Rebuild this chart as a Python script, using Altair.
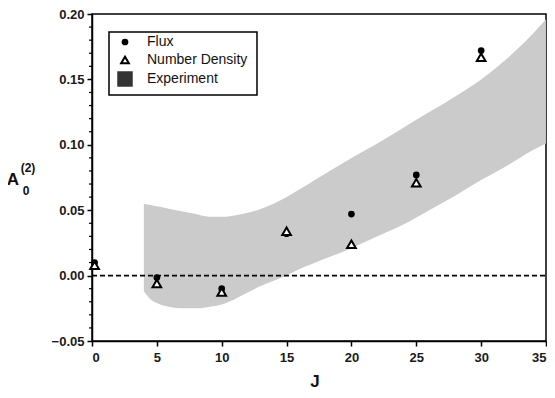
import altair as alt
import pandas as pd

# ---- data ----
J_flux = [0.2, 5, 10, 15, 20, 25, 30]
flux = [0.010, -0.0015, -0.010, 0.032, 0.047, 0.077, 0.172]
J_nd = [0.2, 5, 10, 15, 20, 25, 30]
number_density = [0.008, -0.006, -0.0125, 0.034, 0.024, 0.071, 0.167]

J_band = [4, 4.5, 5, 6, 7, 8, 9, 10, 11, 12, 13, 14, 15, 16, 17, 18, 20, 22, 24, 26, 28, 30, 32, 34, 35]
band_low = [-0.012, -0.018, -0.021, -0.024, -0.025, -0.025, -0.024, -0.022, -0.018, -0.013, -0.008,
            -0.004, 0.000, 0.005, 0.009, 0.013, 0.021, 0.030, 0.039, 0.050, 0.061, 0.073, 0.084, 0.096, 0.101]
band_high = [0.055, 0.054, 0.053, 0.051, 0.049, 0.047, 0.045, 0.045, 0.046, 0.048, 0.051,
             0.055, 0.060, 0.066, 0.072, 0.078, 0.090, 0.101, 0.113, 0.125, 0.137, 0.150, 0.166, 0.185, 0.196]

x_ticks = [0, 5, 10, 15, 20, 25, 30, 35]
y_ticks = [-0.05, 0.00, 0.05, 0.10, 0.15, 0.20]
y_minor = [-0.04, -0.03, -0.02, -0.01, 0.01, 0.02, 0.03, 0.04, 0.06, 0.07, 0.08, 0.09,
           0.11, 0.12, 0.13, 0.14, 0.16, 0.17, 0.18, 0.19]
legend_labels = ["Flux", "Number Density", "Experiment"]

FONT = "Liberation Sans"
W, H = 454, 327

xs = alt.Scale(domain=[0, 35], nice=False, zero=False)
ys = alt.Scale(domain=[-0.05, 0.20], nice=False, zero=False)

band_df = pd.DataFrame({"J": J_band, "low": band_low, "high": band_high})
flux_df = pd.DataFrame({"J": J_flux, "v": flux})
nd_df = pd.DataFrame({"J": J_nd, "v": number_density})
minor_df = pd.DataFrame({"v": y_minor})
one = pd.DataFrame({"a": [0]})

x_axis = alt.Axis(values=x_ticks, title=None, grid=False, tickSize=5, tickColor="black",
                  domainColor="black", domainWidth=1.5, tickWidth=1.5, labelFont=FONT,
                  labelFontSize=13, labelFontWeight="bold", labelColor="#1a1a1a", labelPadding=5)
y_axis = alt.Axis(values=y_ticks, format=".2f", title=None, grid=False, tickSize=5, tickColor="black",
                  domainColor="black", domainWidth=1.5, tickWidth=1.5, labelFont=FONT,
                  labelFontSize=13, labelFontWeight="bold", labelColor="#1a1a1a", labelPadding=3)

band = alt.Chart(band_df).mark_area(color="#c8c8c8", opacity=0.95, interpolate="monotone").encode(
    x=alt.X("J:Q", scale=xs, axis=x_axis),
    y=alt.Y("low:Q", scale=ys, axis=y_axis),
    y2="high:Q",
)

zero_line = alt.Chart(one).mark_rule(color="black", strokeDash=[5, 3], strokeWidth=1.8).encode(
    y=alt.datum(0, scale=ys), x=alt.value(0), x2=alt.value(W)
)

minor = alt.Chart(minor_df).mark_rule(color="black", strokeWidth=1.2).encode(
    y=alt.Y("v:Q", scale=ys), x=alt.value(-3), x2=alt.value(0)
)

flux_pts = alt.Chart(flux_df).mark_point(shape="circle", filled=True, color="black", size=45, opacity=1).encode(
    x=alt.X("J:Q", scale=xs), y=alt.Y("v:Q", scale=ys)
)
nd_pts = alt.Chart(nd_df).mark_point(shape="triangle-up", filled=False, fill="white", fillOpacity=1,
                                     stroke="black", strokeWidth=2, size=75, opacity=1).encode(
    x=alt.X("J:Q", scale=xs), y=alt.Y("v:Q", scale=ys)
)

# legend box
leg_box = alt.Chart(one).mark_rect(fill="white", stroke="black", strokeWidth=1.5).encode(
    x=alt.value(17), x2=alt.value(165), y=alt.value(18), y2=alt.value(81)
)
leg_c = alt.Chart(one).mark_point(shape="circle", filled=True, color="black", size=45, opacity=1).encode(
    x=alt.value(33), y=alt.value(28))
leg_t = alt.Chart(one).mark_point(shape="triangle-up", filled=False, fill="white", stroke="black",
                                  strokeWidth=2, size=60, opacity=1).encode(
    x=alt.value(33), y=alt.value(46))
leg_s = alt.Chart(one).mark_point(shape="square", filled=True, color="#333333", size=240, opacity=1).encode(
    x=alt.value(33), y=alt.value(65))
leg_texts = [
    alt.Chart(one).mark_text(text=lab, align="left", baseline="middle", font=FONT, fontSize=14,
                             color="#111111").encode(x=alt.value(55), y=alt.value(yy))
    for lab, yy in zip(legend_labels, [28, 46, 65])
]

# axis titles
t_A = alt.Chart(one).mark_text(text="A", align="center", baseline="middle", font=FONT, fontSize=17,
                               fontWeight="bold", color="#111111").encode(x=alt.value(-79), y=alt.value(166))
t_sup = alt.Chart(one).mark_text(text="(2)", align="center", baseline="middle", font=FONT, fontSize=12,
                                 fontWeight="bold", color="#111111").encode(x=alt.value(-64), y=alt.value(154))
t_sub = alt.Chart(one).mark_text(text="0", align="center", baseline="middle", font=FONT, fontSize=12,
                                 fontWeight="bold", color="#111111").encode(x=alt.value(-66), y=alt.value(177))
t_J = alt.Chart(one).mark_text(text="J", align="center", baseline="middle", font=FONT, fontSize=17,
                               fontWeight="bold", color="#111111").encode(x=alt.value(223), y=alt.value(368))

chart = alt.layer(
    band, zero_line, minor, flux_pts, nd_pts,
    leg_box, leg_c, leg_t, leg_s, *leg_texts,
    t_A, t_sup, t_sub, t_J,
).properties(
    width=W, height=H,
    autosize=alt.AutoSizeParams(type="none"),
    padding={"left": 84, "top": 6, "right": 1, "bottom": 49},
).configure_view(stroke="black", strokeWidth=1.5)

chart.save("out.html", embed_options={"renderer": "svg", "actions": False})
